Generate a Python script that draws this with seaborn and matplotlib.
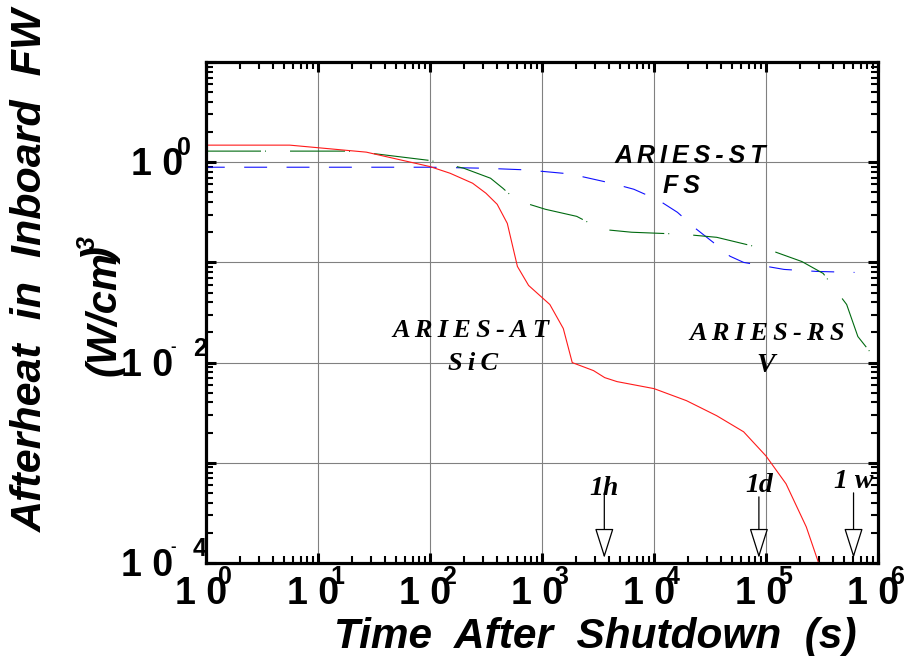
import numpy as np
import pandas as pd
import matplotlib
matplotlib.use("Agg")
import matplotlib.pyplot as plt
import matplotlib.transforms as mtransforms
from matplotlib.ticker import LogLocator, NullFormatter
import seaborn as sns

# ---------------- data ----------------
at_time = [1, 5.6, 27, 100, 151, 240, 316, 398, 490, 603, 759, 1175, 1549, 1862,
           2884, 3631, 4677, 1.0e4, 1.95e4, 3.63e4, 6.31e4, 1.0e5, 1.51e5, 2.29e5, 2.95e5]
at_heat = [1.48, 1.48, 1.26, 0.904, 0.776, 0.617, 0.49, 0.38, 0.245, 0.0912, 0.0589,
           0.038, 0.0219, 0.01, 0.00832, 0.00708, 0.00646, 0.0055, 0.00417, 0.00295,
           0.00204, 0.00117, 6.17e-4, 2.29e-4, 1.0e-4]

rs_time = [1, 18.6, 33.1, 100, 200, 347, 447, 589, 1072, 2042, 3388, 6310, 1.82e4,
           3.63e4, 1.1e5, 2.09e5, 3.24e5, 5.25e5, 6.61e5, 9.77e5]
rs_heat = [1.29, 1.29, 1.21, 1.04, 0.871, 0.692, 0.55, 0.417, 0.339, 0.288, 0.214,
           0.2, 0.191, 0.178, 0.132, 0.102, 0.0776, 0.038, 0.0182, 0.0105]

st_time = [1, 100, 302, 724, 1778, 4169, 6607, 1.1e4, 1.62e4, 2.4e4, 3.39e4, 3.89e4,
           4.79e4, 6.31e4, 1.45e5, 2.82e5, 6.17e5]
st_heat = [0.891, 0.891, 0.871, 0.838, 0.764, 0.617, 0.537, 0.417, 0.316, 0.214,
           0.158, 0.135, 0.115, 0.1, 0.0851, 0.0813, 0.0794]

x_tick_exps = ["0", "1", "2", "3", "4", "5", "6"]
y_tick_exps = ["0", "2", "4"]          # shown as 10^0, 10^-2, 10^-4
y_tick_vals = [1.0, 1e-2, 1e-4]

marker_times = [3600, 86400, 604800]
marker_labels = ["1h", "1d", "1 w"]

# ---------------- style ----------------
sns.set_style("white")
plt.rcParams["font.family"] = ["Liberation Sans", "DejaVu Sans"]
plt.rcParams["lines.scale_dashes"] = False
plt.rcParams["text.color"] = "black"
plt.rcParams["axes.labelcolor"] = "black"

W, H = 908, 656
fig = plt.figure(figsize=(W / 100, H / 100), dpi=100)
ax = fig.add_axes([206 / W, 1 - 563 / H, 672 / W, 501 / H])
ax.set_xscale("log")
ax.set_yscale("log")

df_at = pd.DataFrame({"time": at_time, "heat": at_heat})
df_rs = pd.DataFrame({"time": rs_time, "heat": rs_heat})
df_st = pd.DataFrame({"time": st_time, "heat": st_heat})

sns.lineplot(data=df_st, x="time", y="heat", ax=ax, color="#1010ff", lw=0.8,
             linestyle=(3, (16.5, 14.0)))
sns.lineplot(data=df_rs, x="time", y="heat", ax=ax, color="#006a10", lw=0.8,
             linestyle=(0, (39.6, 2.9, 0.7, 17.3)))
sns.lineplot(data=df_at, x="time", y="heat", ax=ax, color="#ff1a1a", lw=0.8,
             linestyle="-")

ax.set_xlim(1, 1e6)
ax.set_ylim(1e-4, 1e1)
ax.set_xlabel("")
ax.set_ylabel("")

ax.xaxis.set_major_locator(LogLocator(base=10, numticks=20))
ax.yaxis.set_major_locator(LogLocator(base=10, numticks=20))
ax.xaxis.set_minor_locator(LogLocator(base=10, subs=np.arange(2, 10), numticks=100))
ax.yaxis.set_minor_locator(LogLocator(base=10, subs=np.arange(2, 10), numticks=100))
for axis in (ax.xaxis, ax.yaxis):
    axis.set_major_formatter(NullFormatter())
    axis.set_minor_formatter(NullFormatter())

ax.grid(which="major", color="#808080", lw=0.8)
ax.set_axisbelow(True)
ax.tick_params(which="major", direction="in", length=7.5, width=2.2, color="black",
               top=True, right=True, bottom=True, left=True)
ax.tick_params(which="minor", direction="in", length=4.8, width=1.5, color="black",
               top=True, right=True, bottom=True, left=True)
for sp in ax.spines.values():
    sp.set_linewidth(2.3)
    sp.set_color("black")

SANS = ["Liberation Sans", "DejaVu Sans"]
SERIF = ["Liberation Serif", "DejaVu Serif"]

# ---------------- tick labels ----------------
ytr = mtransforms.blended_transform_factory(ax.transAxes, ax.transData)
xtr = mtransforms.blended_transform_factory(ax.transData, ax.transAxes)
for v, e in zip(y_tick_vals, y_tick_exps):
    if e == "0":
        bx, ex = -23, -29
    else:
        bx, ex = -33, -13
    ax.annotate("1 0", xy=(0, v), xycoords=ytr, xytext=(bx, -13),
                textcoords="offset pixels", ha="right", va="baseline",
                fontsize=27, fontweight="bold", family=SANS, annotation_clip=False)
    ax.annotate(e, xy=(0, v), xycoords=ytr, xytext=(ex, 7),
                textcoords="offset pixels", ha="left", va="baseline",
                fontsize=18, fontweight="bold", family=SANS, annotation_clip=False)
    if e != "0":
        ax.annotate("-", xy=(0, v), xycoords=ytr, xytext=(-36, 12),
                    textcoords="offset pixels", ha="left", va="baseline",
                    fontsize=12, fontweight="bold", family=SANS, annotation_clip=False)

for i, e in enumerate(x_tick_exps):
    v = 10.0 ** i
    ax.annotate("1 0", xy=(v, 0), xycoords=xtr, xytext=(21, -41),
                textcoords="offset pixels", ha="right", va="baseline",
                fontsize=27, fontweight="bold", family=SANS, annotation_clip=False)
    ax.annotate(e, xy=(v, 0), xycoords=xtr, xytext=(12, -21),
                textcoords="offset pixels", ha="left", va="baseline",
                fontsize=18, fontweight="bold", family=SANS, annotation_clip=False)

# ---------------- axis titles ----------------
def ftext(x, y, s, **kw):
    fig.text(x / W, 1 - y / H, s, **kw)

ftext(595, 648, "Time  After  Shutdown  (s)", ha="center", va="baseline",
      fontsize=30.5, fontweight="bold", fontstyle="italic", family=SANS)
ftext(31, 270, "Afterheat  in  Inboard  FW", ha="center", va="center", rotation=90,
      fontsize=31, fontweight="bold", fontstyle="italic", family=SANS)
ftext(105, 314, "(W/cm", ha="center", va="center", rotation=90,
      fontsize=30, fontweight="bold", fontstyle="italic", family=SANS)
ftext(105, 257, ")", ha="center", va="center", rotation=90,
      fontsize=30, fontweight="bold", fontstyle="italic", family=SANS)
ftext(88, 243, "3", ha="center", va="center", rotation=90,
      fontsize=18, fontweight="bold", fontstyle="italic", family=SANS)

# ---------------- annotations ----------------
ts = "\u2009"
def spaced(s):
    return ts.join(list(s))

ax.text(0.720, 0.798, spaced("ARIES-ST"), transform=ax.transAxes, ha="center",
        va="baseline", fontsize=18, fontweight="bold", fontstyle="italic", family=SANS)
ax.text(0.708, 0.739, spaced("FS"), transform=ax.transAxes, ha="center",
        va="baseline", fontsize=18, fontweight="bold", fontstyle="italic", family=SANS)
ax.text(0.394, 0.451, spaced("ARIES-AT"), transform=ax.transAxes, ha="center",
        va="baseline", fontsize=19, fontweight="bold", fontstyle="italic", family=SERIF)
ax.text(0.397, 0.385, spaced("SiC"), transform=ax.transAxes, ha="center",
        va="baseline", fontsize=19, fontweight="bold", fontstyle="italic", family=SERIF)
ax.text(0.835, 0.445, spaced("ARIES-RS"), transform=ax.transAxes, ha="center",
        va="baseline", fontsize=19, fontweight="bold", fontstyle="italic", family=SERIF)
ax.text(0.833, 0.381, "V", transform=ax.transAxes, ha="center",
        va="baseline", fontsize=20, fontweight="bold", fontstyle="italic", family=SERIF)

label_base = [0.136, 0.142, 0.150]
arrow_start = [0.140, 0.132, 0.140]
for t, lab, yb, ys in zip(marker_times, marker_labels, label_base, arrow_start):
    ax.text(t, yb, lab, transform=xtr, ha="center", va="baseline", fontsize=20,
            fontweight="bold", fontstyle="italic", family=SERIF)
    ax.annotate("", xy=(t, 0.010), xycoords=xtr, xytext=(t, ys), textcoords=xtr,
                arrowprops=dict(arrowstyle="-|>,head_length=1.9,head_width=0.6",
                                fc="white", ec="black", lw=0.9, mutation_scale=10,
                                shrinkA=0, shrinkB=0))

fig.savefig("out.png", dpi=100)
